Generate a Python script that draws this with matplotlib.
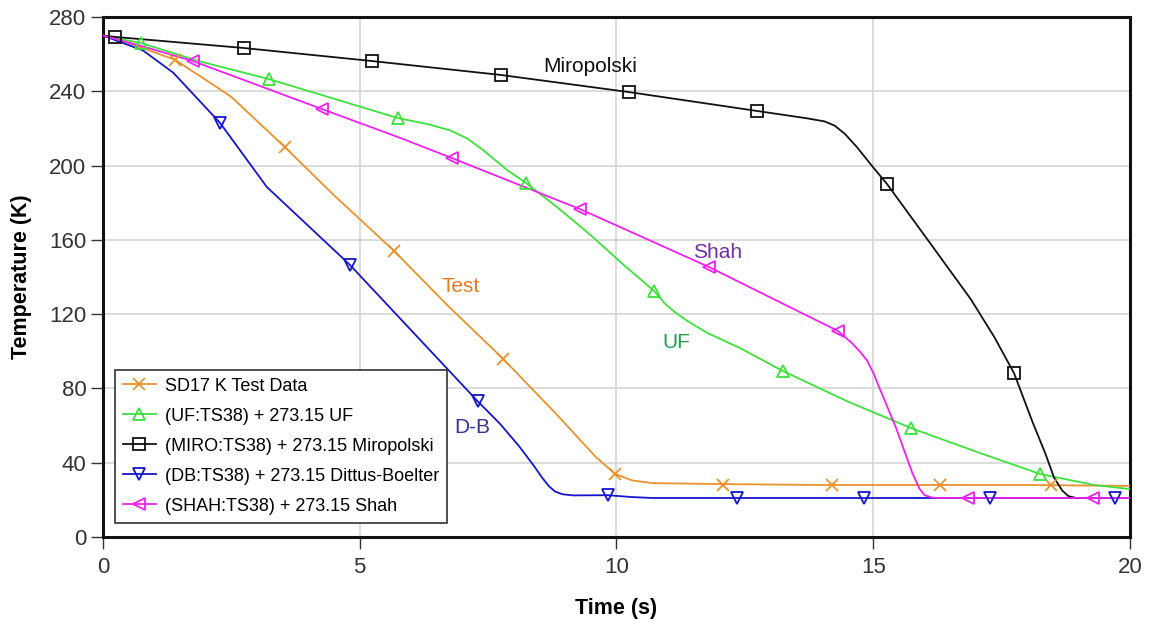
import matplotlib.pyplot as plt
from matplotlib.lines import Line2D

plt.rcParams['font.family'] = ['Liberation Sans', 'DejaVu Sans']

# SD17 K test data
test_t = [0, 0.5, 1.4, 1.9, 2.5, 3.54, 4.5, 5.67, 6.7, 7.79, 8.8, 9.6, 9.97, 10.3, 10.7, 12.0, 14.0, 16.0, 18.0, 20.0]
test_T = [270, 266, 257, 248, 237, 210, 184, 154, 125, 96, 67, 43, 34, 30.5, 29, 28.5, 28, 28, 28, 27.5]
test_mt = [1.40, 3.54, 5.67, 7.79, 9.97, 12.07, 14.2, 16.3, 18.46]
test_mT = [257, 210, 154, 96, 34, 28, 28, 28, 28]

# UF correlation
uf_t = [0, 0.74, 1.9, 3.23, 4.5, 5.74, 6.3, 6.76, 7.1, 7.4, 7.87, 8.24, 8.84, 9.5, 10.1, 10.73,
        10.95, 11.14, 11.4, 11.76, 12.4, 13.24, 14.5, 15.73, 17.0, 18.25, 19.3, 20.0]
uf_T = [270, 266, 256, 246.6, 236, 225.6, 222.5, 219, 214.5, 208.4, 197.6, 190.6, 177.7, 162.5, 147.5, 132.5,
        125.5, 121, 116, 110, 101.8, 89.4, 73, 58.7, 46, 33.9, 28, 25.8]
uf_mt = [0.74, 3.23, 5.74, 8.24, 10.73, 13.24, 15.73, 18.25]
uf_mT = [266, 246.6, 225.6, 190.6, 132.5, 89.4, 58.7, 33.9]

# Miropolski correlation
miro_t = [0, 0.23, 2.75, 5.24, 7.75, 10.24, 12.74, 13.7, 14.05, 14.25, 14.45, 14.68, 14.97, 15.27, 16.1,
          16.9, 17.35, 17.74, 18.1, 18.35, 18.52, 18.68, 18.8, 18.95, 20.0]
miro_T = [270, 269.3, 263.3, 256.3, 248.8, 239.6, 229.4, 225.5, 223.8, 221.5, 217, 210, 200, 190, 158.5,
          128, 108, 88.3, 62, 45, 32, 25, 22, 21, 21]
miro_mt = [0.23, 2.75, 5.24, 7.75, 10.24, 12.74, 15.27, 17.74]
miro_mT = [269.3, 263.3, 256.3, 248.8, 239.6, 229.4, 190, 88.3]

# Dittus-Boelter correlation
db_t = [0, 0.78, 1.37, 2.28, 3.19, 4.81, 7.3, 7.73, 8.1, 8.4, 8.55, 8.68, 8.8, 8.95, 9.15, 9.83, 10.3, 10.7, 12.0, 14.0, 16.0, 18.0, 20.0]
db_T = [270, 262, 250, 223, 188.5, 146.5, 73, 61, 49, 38, 32, 27.5, 24.5, 23, 22.4, 22.5, 21.5, 21, 21, 21, 21, 21, 21]
db_mt = [2.28, 4.81, 7.3, 9.83, 12.35, 14.82, 17.27, 19.7]
db_mT = [223, 146.5, 73, 22.5, 21, 21, 21, 21]

# Shah correlation
shah_t = [0, 0.8, 1.75, 4.26, 5.78, 6.8, 8.84, 9.29, 11.8, 14.31, 14.6, 14.75, 14.88, 15.0, 15.11, 15.44,
          15.76, 15.9, 16.0, 16.15, 16.3, 18.0, 20.0]
shah_T = [270, 264, 256.3, 230.5, 215, 204, 181.5, 176.6, 145.4, 111, 104, 99.5, 95, 88.5, 81, 59,
          34.5, 26, 22.5, 21.2, 21, 21, 21]
shah_mt = [1.75, 4.26, 6.8, 9.29, 11.8, 14.31, 16.85, 19.28]
shah_mT = [256.3, 230.5, 204, 176.6, 145.4, 111, 21, 21]

series = [
    (test_t, test_T, test_mt, test_mT, '#E8922E', 'x', 'SD17 K Test Data'),
    (uf_t, uf_T, uf_mt, uf_mT, '#3EE03E', '^', '(UF:TS38) + 273.15 UF'),
    (miro_t, miro_T, miro_mt, miro_mT, '#111111', 's', '(MIRO:TS38) + 273.15 Miropolski'),
    (db_t, db_T, db_mt, db_mT, '#1515CC', 'v', '(DB:TS38) + 273.15 Dittus-Boelter'),
    (shah_t, shah_T, shah_mt, shah_mT, '#EE22EE', '<', '(SHAH:TS38) + 273.15 Shah'),
]

fig = plt.figure(figsize=(11.49, 6.26), dpi=100)
ax = fig.add_axes([0.0896, 0.1422, 0.8939, 0.8306])

handles = []
for t, T, mt, mT, c, m, name in series:
    ax.plot(t, T, color=c, lw=1.3, zorder=3)
    ax.plot(mt, mT, ls='none', marker=m, ms=8, mfc='none', mec=c, mew=1.3, zorder=4)
    handles.append(Line2D([], [], color=c, lw=1.3, marker=m, ms=8, mfc='none', mec=c, mew=1.3))

# curve labels
ax.text(8.57, 250.4, 'Miropolski', color='#111111', fontsize=15, va='baseline')
ax.text(11.5, 150.2, 'Shah', color='#7030A0', fontsize=15, va='baseline')
ax.text(6.6, 131.9, 'Test', color='#E07B20', fontsize=15, va='baseline')
ax.text(10.89, 101.8, 'UF', color='#1E9E4E', fontsize=15, va='baseline')
ax.text(6.85, 56, 'D-B', color='#333399', fontsize=15, va='baseline', zorder=6)

ax.set_xlim(0, 20)
ax.set_ylim(0, 280)
ax.set_xticks([0, 5, 10, 15, 20])
ax.set_yticks(range(0, 281, 40))
ax.grid(True, color='#d6d6d6', lw=1.2)
ax.set_axisbelow(True)
ax.tick_params(direction='out', length=8.5, width=1, labelsize=16, colors='#333333')
ax.tick_params(axis='y', pad=3.5)
ax.tick_params(axis='x', pad=6)
for s in ax.spines.values():
    s.set_linewidth(2.2)
    s.set_color('#111111')

ax.set_xlabel('Time (s)', fontsize=15.5, fontweight='bold', labelpad=14)
ax.set_ylabel('Temperature (K)', fontsize=15.5, fontweight='bold', labelpad=12)

leg = ax.legend(handles, [s[6] for s in series], loc='lower left', bbox_to_anchor=(0.0117, 0.027),
                fontsize=13, frameon=True, fancybox=False, edgecolor='#333333', framealpha=1,
                handlelength=1.8, handletextpad=0.5, borderpad=0.45, labelspacing=0.72, borderaxespad=0)
leg.get_frame().set_linewidth(1.2)

fig.savefig('out.png', dpi=100)
